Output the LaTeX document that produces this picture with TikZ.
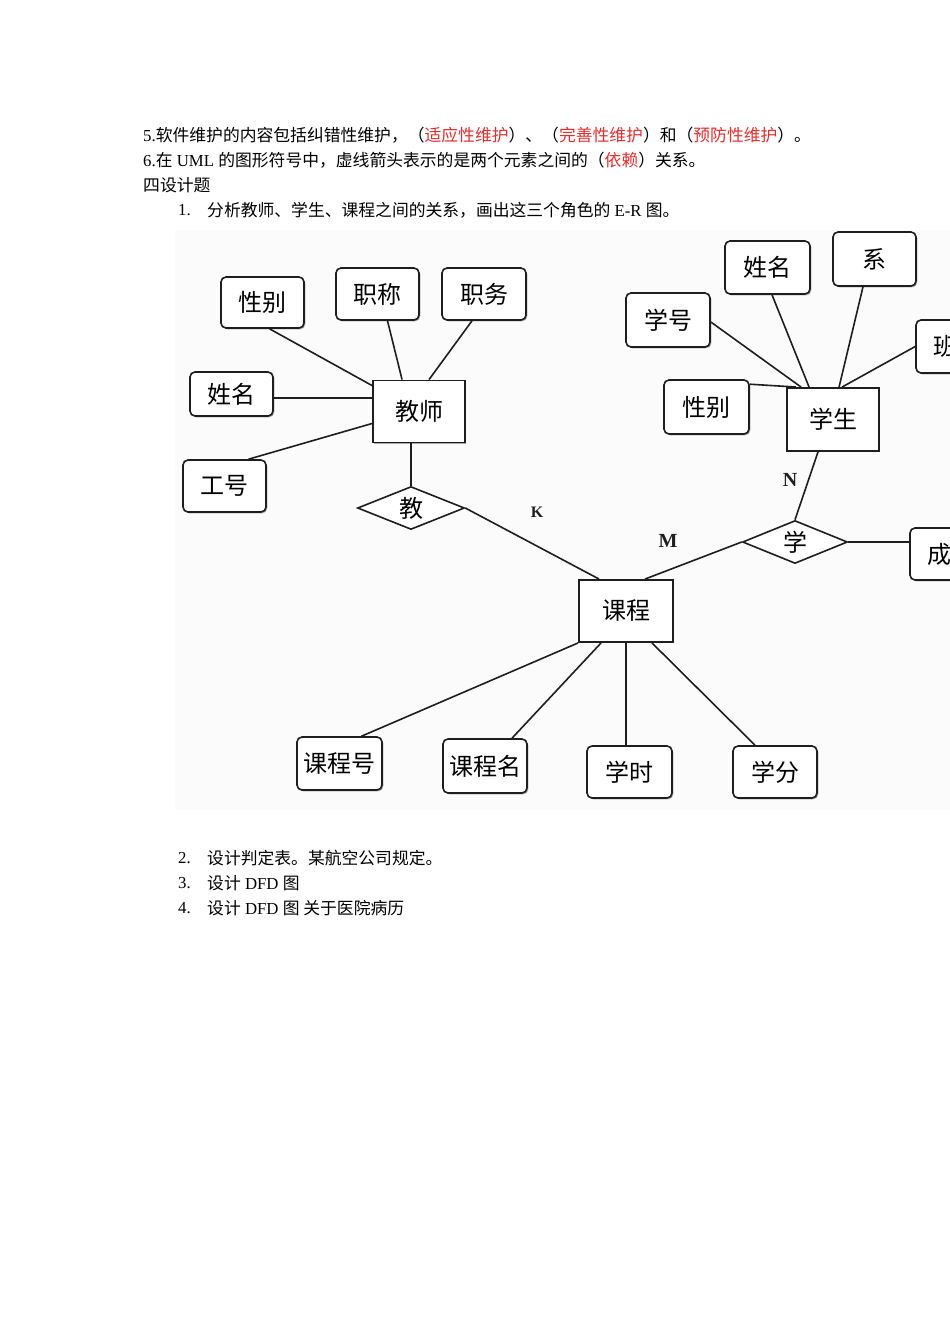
\documentclass[tikz,border=0pt]{standalone}
\usepackage{fontspec}
\setmainfont{Liberation Serif}
\newfontfamily\cjk{Noto Sans CJK SC}
\usetikzlibrary{shapes.geometric,calc,shadows}
\definecolor{ansred}{RGB}{225,45,45}
\definecolor{linec}{RGB}{30,30,30}
\definecolor{imgbg}{RGB}{251,251,251}
\newcommand{\ans}[1]{\textcolor{ansred}{#1}}
\begin{document}
\begin{tikzpicture}[x=1pt,y=-1pt,
  txt/.style={anchor=west, inner sep=0pt, font=\fontsize{16.8}{20}\selectfont},
  attr/.style={draw=linec, line width=1.6pt, rounded corners=5pt, fill=white,
    font=\cjk\fontsize{24}{24}\selectfont, inner sep=0pt,
    drop shadow={shadow xshift=1.3pt, shadow yshift=-1.3pt, fill=gray!70, opacity=1}},
  entity/.style={draw=linec, line width=1.9pt, fill=white,
    font=\cjk\fontsize{24}{24}\selectfont, inner sep=0pt,
    drop shadow={shadow xshift=1.2pt, shadow yshift=-1.2pt, fill=gray!70, opacity=1}},
  rel/.style={shape=diamond, draw=linec, line width=1.6pt, fill=white,
    font=\cjk\fontsize{24}{24}\selectfont, inner sep=0pt, aspect=2.5},
  conn/.style={draw=linec, line width=1.6pt},
  card/.style={font=\bfseries\fontsize{20}{20}\selectfont, inner sep=0pt, text=linec}
]
\useasboundingbox (0,0) rectangle (950,1344);

% ---- text above ----
\node[txt] (l5) at (143,135) {5.\cjk 软件维护的内容包括纠错性维护，（\ans{适应性维护}）、（\ans{完善性维护}）和（\ans{预防性维护}）。};
\node[txt] (l6) at (143,160) {6.\cjk 在\rmfamily{} UML \cjk 的图形符号中，虚线箭头表示的是两个元素之间的（\ans{依赖}）关系。};
\node[txt] (l4) at (143,185) {\cjk 四设计题};
\node[txt] (n1) at (178,210) {1.};
\node[txt] (q1) at (207,210) {\cjk 分析教师、学生、课程之间的关系，画出这三个角色的\rmfamily{} E-R \cjk 图。};

% ---- embedded picture area ----
\begin{scope}
\clip (0,0) rectangle (950,1344);
\fill[imgbg] (175,230) rectangle (950,810);

% teacher side
\node[attr, minimum width=83pt, minimum height=51pt] (tsex) at (262.5,302.5) {性别};
\node[attr, minimum width=83pt, minimum height=52pt] (ttitle) at (377.5,294) {职称};
\node[attr, minimum width=84pt, minimum height=52pt] (tduty) at (484,294) {职务};
\node[attr, minimum width=83pt, minimum height=44pt] (tname) at (231.5,394) {姓名};
\node[attr, minimum width=83pt, minimum height=52pt] (tid) at (224.5,486) {工号};
\node[entity, minimum width=92pt, minimum height=62pt] (teacher) at (419,411.5) {教师};
\node[rel, minimum width=107pt, minimum height=43pt] (teach) at (411,508) {教};

% student side
\node[attr, minimum width=85pt, minimum height=53pt] (sname) at (767.5,267.5) {姓名};
\node[attr, minimum width=83pt, minimum height=54pt] (sdept) at (874.5,259) {系};
\node[attr, minimum width=84pt, minimum height=54pt] (sno) at (668,320) {学号};
\node[attr, minimum width=83pt, minimum height=53pt] (sclass) at (957.5,346.5) {班级};
\node[attr, minimum width=85pt, minimum height=54pt] (ssex) at (706.5,407) {性别};
\node[entity, minimum width=92pt, minimum height=63pt] (student) at (833,419.5) {学生};
\node[rel, minimum width=105pt, minimum height=43pt] (learn) at (795,542) {学};
\node[attr, minimum width=83pt, minimum height=52pt] (grade) at (951.5,554) {成绩};

% course
\node[entity, minimum width=94pt, minimum height=62pt] (course) at (626,611) {课程};
\node[attr, minimum width=85pt, minimum height=53pt] (cno) at (339.5,763.5) {课程号};
\node[attr, minimum width=84pt, minimum height=54pt] (cname) at (485,766) {课程名};
\node[attr, minimum width=85pt, minimum height=52pt] (chour) at (629.5,772) {学时};
\node[attr, minimum width=84pt, minimum height=52pt] (ccredit) at (775,772) {学分};

% cardinalities
\node[card, font=\bfseries\fontsize{16}{16}\selectfont] (kK) at (537,512) {K};
\node[card] (kM) at (668,541) {M};
\node[card] (kN) at (790,480) {N};

% teacher connectors
\draw[conn] ($(tsex.south)+(7,0)$) -- ($(teacher.north west)+(0,6)$);
\draw[conn] ($(ttitle.south)+(10,0)$) -- ($(teacher.north west)+(30,0)$);
\draw[conn] ($(tduty.south)+(-12,0)$) -- ($(teacher.north west)+(57,0)$);
\draw[conn] ($(tname.east)+(0,4)$) -- ($(teacher.west)+(0,-13.5)$);
\draw[conn] ($(tid.north)+(24,0)$) -- ($(teacher.west)+(0,12)$);
\draw[conn] ($(teacher.south)+(-8,0)$) -- (teach.north);
\draw[conn] (teach.east) -- ($(course.north west)+(21,0)$);

% student connectors
\draw[conn] ($(course.north)+(19,0)$) -- (learn.west);
\draw[conn] ($(student.south)+(-15,0)$) -- (learn.north);
\draw[conn] (learn.east) -- (learn.east -| grade.west);
\draw[conn] ($(sno.east)+(0,2)$) -- ($(student.north west)+(15,0)$);
\draw[conn] ($(sname.south)+(4.5,0)$) -- ($(student.north west)+(23,0)$);
\draw[conn] ($(sdept.south)+(-11.5,0)$) -- ($(student.north west)+(53,0)$);
\draw[conn] (sclass.west) -- ($(student.north west)+(56,0)$);
\draw[conn] ($(ssex.north east)+(0,5)$) -- ($(student.north west)+(10,0)$);

% course connectors
\draw[conn] (course.south west) -- ($(cno.north)+(22,0)$);
\draw[conn] ($(course.south west)+(23,0)$) -- ($(cname.north)+(27,0)$);
\draw[conn] (course.south) -- (course.south |- chour.north);
\draw[conn] ($(course.south)+(26,0)$) -- ($(ccredit.north)+(-20,0)$);
\end{scope}

% ---- text below ----
\node[txt] (n2) at (178,858) {2.};
\node[txt] (q2) at (207,858) {\cjk 设计判定表。某航空公司规定。};
\node[txt] (n3) at (178,883) {3.};
\node[txt] (q3) at (207,883) {\cjk 设计\rmfamily{} DFD \cjk 图};
\node[txt] (n4) at (178,908) {4.};
\node[txt] (q4) at (207,908) {\cjk 设计\rmfamily{} DFD \cjk 图 关于医院病历};
\end{tikzpicture}
\end{document}
